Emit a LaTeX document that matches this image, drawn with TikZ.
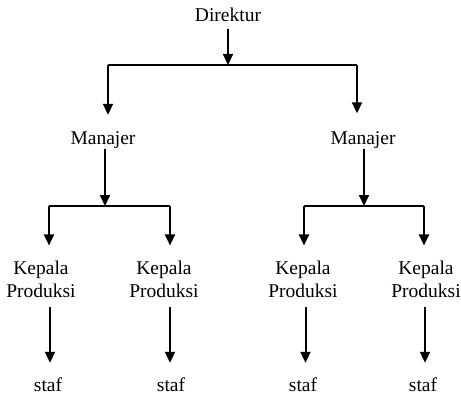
\documentclass[tikz,border=0pt]{standalone}
\usepackage{fontspec}
\setmainfont{Liberation Serif}
\usetikzlibrary{arrows.meta}
\begin{document}
\begin{tikzpicture}[x=1pt,y=-1pt,
  lbl/.style={font=\fontsize{19.5}{23}\selectfont, inner sep=0pt, anchor=base,
              text height=13.5pt, text depth=4.5pt},
  lbl2/.style={font=\fontsize{19.5}{23}\selectfont, inner sep=0pt, align=center},
  link/.style={line width=2pt},
  arr/.style={link, -{Triangle[width=10pt,length=11pt]}}]
\useasboundingbox (0,0) rectangle (461,396);

% people
\node[lbl] (dir) at (228,22) {Direktur};
\node[lbl] (m1) at (103,144) {Manajer};
\node[lbl] (m2) at (363,144) {Manajer};
\node[lbl2] (k1) at (41,279) {Kepala\\Produksi};
\node[lbl2] (k2) at (164,279) {Kepala\\Produksi};
\node[lbl2] (k3) at (303,279) {Kepala\\Produksi};
\node[lbl2] (k4) at (426,279) {Kepala\\Produksi};
\node[lbl] (s1) at (48,391) {staf};
\node[lbl] (s2) at (171,391) {staf};
\node[lbl] (s3) at (303,391) {staf};
\node[lbl] (s4) at (423,391) {staf};

% branch points
\coordinate (j0) at (228,65);
\coordinate (j0l) at (108,65);
\coordinate (j0r) at (357,65);
\coordinate (j1) at (105,206);
\coordinate (j1l) at (49,206);
\coordinate (j1r) at (170,206);
\coordinate (j2) at (364,206);
\coordinate (j2l) at (304,206);
\coordinate (j2r) at (424,206);

% director to managers
\draw[arr] ([yshift=-2pt]dir.south) -- (j0);
\draw[link] (j0l) -- (j0r);
\draw[arr] (j0l) -- ([yshift=15.5pt]m1.north -| j0l);
\draw[arr] (j0r) -- ([yshift=17pt]m2.north -| j0r);

% managers to heads of production
\draw[arr] (m1.south -| j1) -- (j1);
\draw[link] (j1l) -- (j1r);
\draw[arr] (j1l) -- ([yshift=15pt]k1.north -| j1l);
\draw[arr] (j1r) -- ([yshift=15pt]k2.north -| j1r);

\draw[arr] (m2.south -| j2) -- (j2);
\draw[link] (j2l) -- (j2r);
\draw[arr] (j2l) -- ([yshift=15pt]k3.north -| j2l);
\draw[arr] (j2r) -- ([yshift=15pt]k4.north -| j2r);

% heads of production to staff
\draw[arr] ([xshift=9pt,yshift=-9pt]k1.south) -- ([xshift=2pt,yshift=14.5pt]s1.north);
\draw[arr] ([xshift=6pt,yshift=-9pt]k2.south) -- ([xshift=-1pt,yshift=14.5pt]s2.north);
\draw[arr] ([xshift=2.5pt,yshift=-9pt]k3.south) -- ([xshift=2.5pt,yshift=14.5pt]s3.north);
\draw[arr] ([xshift=-1pt,yshift=-9pt]k4.south) -- ([xshift=2pt,yshift=14.5pt]s4.north);
\end{tikzpicture}
\end{document}
